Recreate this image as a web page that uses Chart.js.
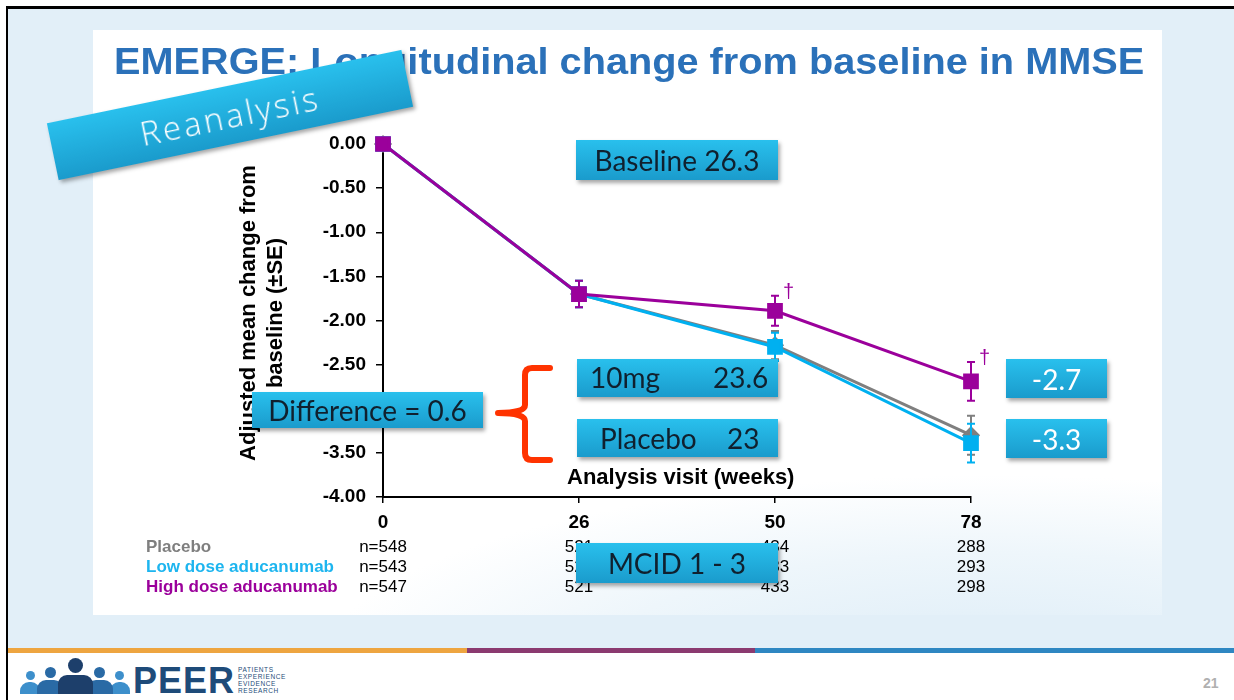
<!DOCTYPE html>
<html>
<head>
<meta charset="utf-8">
<script src="https://cdn.jsdelivr.net/npm/chart.js@4.4.0/dist/chart.umd.min.js"></script>
<style>
  body { margin: 0; width: 1234px; height: 700px; overflow: hidden; background: #fff; position: relative; font-family: "Liberation Sans", Arial, sans-serif; }
  .abs { position: absolute; }
  #bg { left: 8px; top: 9px; width: 1226px; height: 639px; background: #e2eff8; }
  #panel { left: 93px; top: 30px; width: 1069px; height: 585px;
    background: radial-gradient(ellipse 900px 260px at 900px 640px, #dcecf7 0%, #eef6fb 45%, rgba(255,255,255,0) 75%), #fff; }
  #topline { left: 6px; top: 6px; width: 1228px; height: 3px; background: #000; }
  #leftline { left: 6px; top: 6px; width: 2px; height: 694px; background: #000; }
  .stripe { top: 648px; height: 5px; }
  #chartWrap { left: 0; top: 0; width: 1234px; height: 700px; z-index: 2; }
  #title { left: 114px; top: 44px; font-weight: bold; font-size: 36px; line-height: 36px; color: #2b71b9;
    white-space: nowrap; transform: scaleX(1.103); transform-origin: left top; z-index: 3; }
  #ytitle { left: 61px; top: 286px; width: 400px; height: 54px; font-weight: bold; font-size: 22px; line-height: 27px;
    text-align: center; transform: rotate(-90deg); color: #000; z-index: 3; white-space: nowrap; }
  #xtitle { left: 567px; top: 465px; font-weight: bold; font-size: 22px; line-height: 24px; color: #000; z-index: 3; white-space: nowrap; }
  .box { background: linear-gradient(#29c0ed, #1a9bcc); box-shadow: 2px 3px 4px rgba(0,0,0,0.35);
    font-family: Lato, "Open Sans", sans-serif; font-size: 28px; color: #10202e; z-index: 4; }
  .box span { position: absolute; white-space: nowrap; }
  .centered { display: flex; align-items: center; justify-content: center; }
  .white { color: #fff; }
  #reanalysis { left: 49px; top: 86px; width: 362px; height: 58px; transform: rotate(-11.7deg); z-index: 5;
    color: #fff; font-family: "Open Sans", sans-serif; font-weight: 300; font-size: 33px; letter-spacing: 3px; }
  .head { border-radius: 50%; z-index: 3; }
  .body { border-radius: 9px 9px 0 0; z-index: 3; }
  #peer { left: 133px; top: 663px; font-weight: bold; font-size: 36px; line-height: 36px; color: #1e4b79; letter-spacing: 1px; }
  #peerSmall { left: 238px; top: 666px; font-size: 6.5px; line-height: 7px; color: #1e4b79; letter-spacing: 0.6px; }
  #pageno { left: 1203px; top: 675px; font-weight: bold; font-size: 14px; color: #b0b0b0; }
</style>
</head>
<body>
<div id="bg" class="abs"></div>
<div id="panel" class="abs"></div>
<div id="topline" class="abs"></div>
<div id="leftline" class="abs"></div>
<div class="abs stripe" style="left:8px;width:459px;background:#eea540;"></div>
<div class="abs stripe" style="left:467px;width:288px;background:#8b3a70;"></div>
<div class="abs stripe" style="left:755px;width:479px;background:#2e87c2;"></div>

<div id="chartWrap" class="abs"><canvas id="myChart" width="1234" height="700"></canvas></div>

<div id="title" class="abs">EMERGE: Longitudinal change from baseline in MMSE</div>
<div id="ytitle" class="abs">Adjusted mean change from<br>baseline (±SE)</div>
<div id="xtitle" class="abs">Analysis visit (weeks)</div>

<div id="reanalysis" class="abs box centered">Reanalysis</div>
<div class="abs box centered" style="left:576px;top:140px;width:202px;height:40px;">Baseline 26.3</div>
<div class="abs box" style="left:577px;top:359px;width:201px;height:38px;"><span style="left:13px;top:1px;">10mg</span><span style="left:136px;top:1px;">23.6</span></div>
<div class="abs box" style="left:577px;top:419px;width:201px;height:38px;"><span style="left:23px;top:2px;">Placebo</span><span style="left:150px;top:2px;">23</span></div>
<div class="abs box centered" style="left:252px;top:392px;width:231px;height:36px;">Difference = 0.6</div>
<div class="abs box centered white" style="left:1006px;top:359px;width:101px;height:39px;">-2.7</div>
<div class="abs box centered white" style="left:1006px;top:419px;width:101px;height:39px;">-3.3</div>
<div class="abs box centered" style="left:576px;top:543px;width:202px;height:40px;">MCID 1 - 3</div>

<svg class="abs" style="left:490px;top:360px;z-index:4;" width="70" height="110">
  <path d="M60 8 L42 8 Q35 8 35 15 L35 45 Q35 53 8 53 Q35 53 35 61 L35 93 Q35 100 42 100 L60 100"
        fill="none" stroke="#ff3300" stroke-width="6" stroke-linejoin="round" stroke-linecap="round"/>
</svg>

<!-- footer logo -->
<div class="abs body" style="left:20px;top:682px;width:20px;height:12px;background:#3d8fcb;"></div>
<div class="abs head" style="left:26px;top:671px;width:9px;height:9px;background:#3d8fcb;"></div>
<div class="abs body" style="left:110px;top:682px;width:20px;height:12px;background:#3d8fcb;"></div>
<div class="abs head" style="left:115px;top:671px;width:9px;height:9px;background:#3d8fcb;"></div>
<div class="abs body" style="left:37px;top:680px;width:26px;height:14px;background:#2a6aa5;"></div>
<div class="abs head" style="left:45px;top:667px;width:11px;height:11px;background:#2a6aa5;"></div>
<div class="abs body" style="left:87px;top:680px;width:26px;height:14px;background:#2a6aa5;"></div>
<div class="abs head" style="left:94px;top:667px;width:11px;height:11px;background:#2a6aa5;"></div>
<div class="abs body" style="left:58px;top:675px;width:35px;height:19px;background:#1d3f6b;"></div>
<div class="abs head" style="left:68px;top:658px;width:15px;height:15px;background:#1d3f6b;"></div>
<div id="peer" class="abs">PEER</div>
<div id="peerSmall" class="abs">PATIENTS<br>EXPERIENCE<br>EVIDENCE<br>RESEARCH</div>
<div id="pageno" class="abs">21</div>

<script>
const weeks = ['0', '26', '50', '78'];
const placebo = [0, -1.70, -2.28, -3.30];
const lowDose = [0, -1.70, -2.30, -3.39];
const highDose = [0, -1.70, -1.89, -2.69];
const placeboSE = [0, 0.15, 0.16, 0.22];
const lowDoseSE = [0, 0.15, 0.16, 0.22];
const highDoseSE = [0, 0.15, 0.17, 0.22];
const highDoseMarks = ['', '', '†', '†'];
const groupNames = ['Placebo', 'Low dose aducanumab', 'High dose aducanumab'];
const placeboN = [548, 521, 434, 288];
const lowDoseN = [543, 522, 433, 293];
const highDoseN = [547, 521, 433, 298];

const grey = '#7f7f7f', cyan = '#00b0f0', purple = '#9b009b';

// error bars, daggers and the n table under the axis
const extras = {
  id: 'extras',
  beforeDatasetDraw(chart, args) {
    const ds = chart.data.datasets[args.index];
    const x = chart.scales.x, y = chart.scales.y, ctx = chart.ctx;
    ctx.save();
    ctx.strokeStyle = ds.borderColor;
    ctx.lineWidth = 2;
    ds.data.forEach((v, i) => {
      const se = ds.se[i];
      if (!se) return;
      const px = x.getPixelForValue(i);
      const top = y.getPixelForValue(v + se), bot = y.getPixelForValue(v - se);
      ctx.beginPath();
      ctx.moveTo(px, top); ctx.lineTo(px, bot);
      ctx.moveTo(px - 4, top); ctx.lineTo(px + 4, top);
      ctx.moveTo(px - 4, bot); ctx.lineTo(px + 4, bot);
      ctx.stroke();
    });
    ctx.restore();
  },
  afterDraw(chart) {
    const x = chart.scales.x, y = chart.scales.y, ctx = chart.ctx;
    ctx.save();
    // daggers
    ctx.fillStyle = purple;
    ctx.font = '20px "Liberation Sans", Arial';
    ctx.textAlign = 'left';
    ctx.textBaseline = 'middle';
    highDoseMarks.forEach((m, i) => {
      if (!m) return;
      ctx.fillText(m, x.getPixelForValue(i) + 8, y.getPixelForValue(highDose[i] + highDoseSE[i]) - 3);
    });
    // n table
    const rows = [placeboN, lowDoseN, highDoseN];
    const colors = [grey, '#1db5ef', purple];
    const rowY = [547, 567, 587];
    rows.forEach((r, j) => {
      ctx.fillStyle = colors[j];
      ctx.font = 'bold 17px "Liberation Sans", Arial';
      ctx.textAlign = 'left';
      ctx.fillText(groupNames[j], 146, rowY[j]);
      ctx.fillStyle = '#000';
      ctx.font = '17px "Liberation Sans", Arial';
      ctx.textAlign = 'center';
      r.forEach((n, i) => {
        ctx.fillText((i === 0 ? 'n=' : '') + n, x.getPixelForValue(i), rowY[j]);
      });
    });
    ctx.restore();
  }
};

new Chart(document.getElementById('myChart').getContext('2d'), {
  type: 'line',
  data: {
    labels: weeks,
    datasets: [
      { label: groupNames[0], data: placebo, se: placeboSE, borderColor: grey, backgroundColor: grey,
        pointStyle: 'rectRot', pointRadius: 7, borderWidth: 3, order: 3, clip: false },
      { label: groupNames[1], data: lowDose, se: lowDoseSE, borderColor: cyan, backgroundColor: cyan,
        pointStyle: 'rect', pointRadius: 9, borderWidth: 3, order: 2, clip: false },
      { label: groupNames[2], data: highDose, se: highDoseSE, borderColor: purple, backgroundColor: purple,
        pointStyle: 'rect', pointRadius: 9, borderWidth: 3, order: 1, clip: false }
    ]
  },
  options: {
    responsive: false,
    animation: false,
    layout: { padding: { left: 300, top: 144, right: 263, bottom: 0 } },
    plugins: { legend: { display: false }, tooltip: { enabled: false } },
    elements: { line: { tension: 0 }, point: { borderWidth: 1 } },
    scales: {
      x: {
        offset: false,
        afterFit(scale) { scale.height = 203; },
        grid: { drawOnChartArea: false, tickLength: 6, color: '#000', lineWidth: 1.5 },
        border: { display: true, color: '#000', width: 2 },
        ticks: { color: '#000', font: { family: '"Liberation Sans", Arial', size: 19, weight: 'bold' }, padding: 8 }
      },
      y: {
        min: -4, max: 0,
        afterFit(scale) { scale.width = 83; },
        grid: { drawOnChartArea: false, tickLength: 7, color: '#000', lineWidth: 1.5 },
        border: { display: true, color: '#000', width: 2 },
        ticks: { stepSize: 0.5, color: '#000', padding: 10,
          font: { family: '"Liberation Sans", Arial', size: 19, weight: 'bold' },
          callback: v => v.toFixed(2) }
      }
    }
  },
  plugins: [extras]
});
</script>
</body>
</html>
